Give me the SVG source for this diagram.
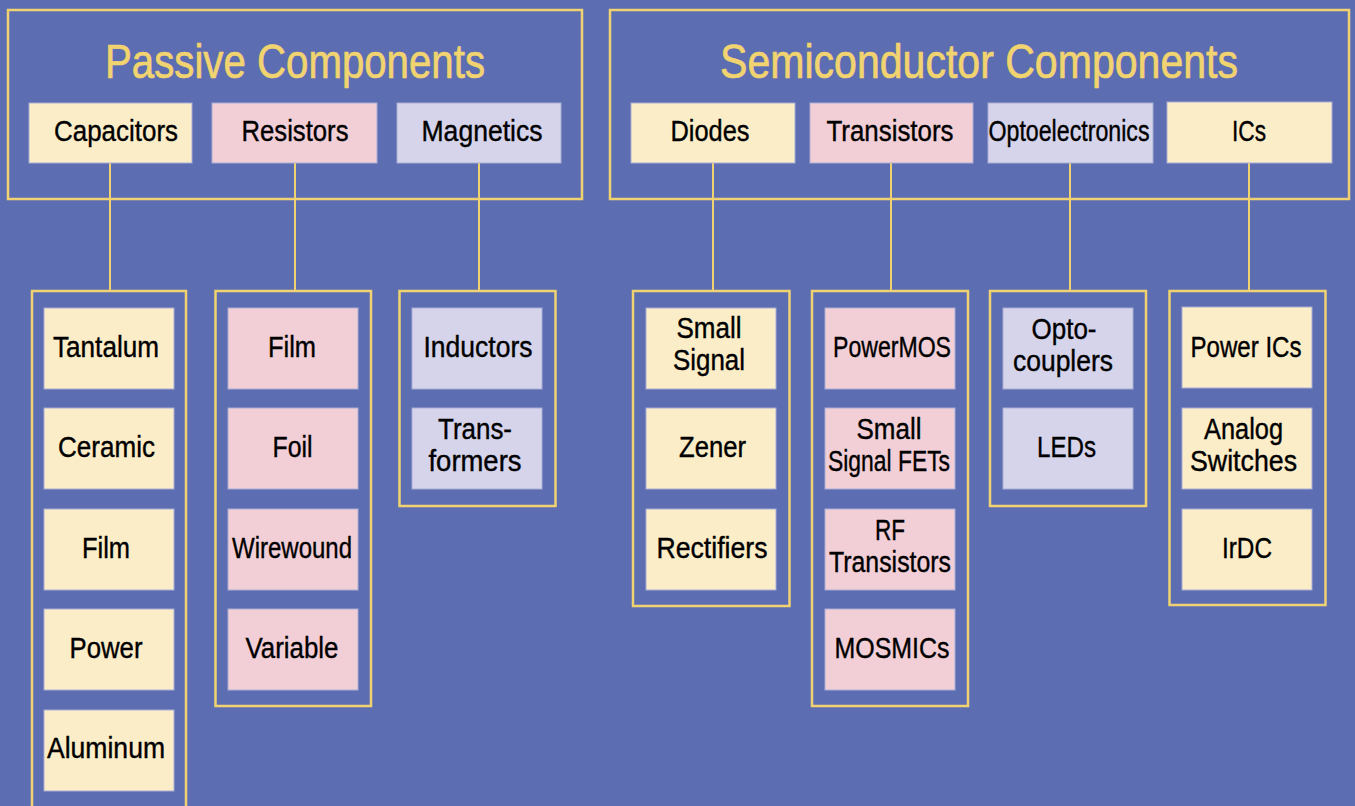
<svg xmlns="http://www.w3.org/2000/svg" width="1355" height="806" viewBox="0 0 1355 806">
  <style>
    .frame { fill: none; stroke: #f0d370; stroke-width: 2.5; }
    .wire { stroke: #f0d370; stroke-width: 2; fill: none; }
    .box { stroke: #a9aed6; stroke-width: 1; }
    .cream { fill: #fbedc8; }
    .pink { fill: #f2cfd6; }
    .lav { fill: #d6d4ea; }
    .title { font-family: "Liberation Sans", Arial, sans-serif; font-size: 48px; fill: #f1d470; stroke: #f1d470; stroke-width: 0.7; text-anchor: middle; }
    .lbl { font-family: "Liberation Sans", Arial, sans-serif; font-size: 30px; fill: #000; stroke: #000; stroke-width: 0.4; text-anchor: middle; }
  </style>

  <rect width="1355" height="806" fill="#5d6db2"/>

  <!-- category frames -->
  <g id="passive">
    <rect class="frame" x="8" y="10" width="574" height="189"/>
    <text class="title" x="295" y="78" textLength="380" lengthAdjust="spacingAndGlyphs">Passive Components</text>
  </g>
  <g id="semiconductor">
    <rect class="frame" x="610" y="10" width="739" height="189"/>
    <text class="title" x="979" y="78" textLength="518" lengthAdjust="spacingAndGlyphs">Semiconductor Components</text>
  </g>

  <!-- connectors from family boxes down to their member groups -->
  <g id="connectors">
    <line class="wire" x1="110" y1="163" x2="110" y2="291"/>
    <line class="wire" x1="295" y1="163" x2="295" y2="291"/>
    <line class="wire" x1="479" y1="163" x2="479" y2="291"/>
    <line class="wire" x1="713" y1="163" x2="713" y2="291"/>
    <line class="wire" x1="891" y1="163" x2="891" y2="291"/>
    <line class="wire" x1="1070" y1="163" x2="1070" y2="291"/>
    <line class="wire" x1="1249" y1="163" x2="1249" y2="291"/>
  </g>

  <!-- family boxes -->
  <g id="capacitors">
    <rect class="box cream" x="29" y="103" width="163" height="60"/>
    <text class="lbl" x="116" y="141" textLength="124" lengthAdjust="spacingAndGlyphs">Capacitors</text>
  </g>
  <g id="resistors">
    <rect class="box pink" x="212" y="103" width="165" height="60"/>
    <text class="lbl" x="295" y="141" textLength="107" lengthAdjust="spacingAndGlyphs">Resistors</text>
  </g>
  <g id="magnetics">
    <rect class="box lav" x="397" y="103" width="164" height="60"/>
    <text class="lbl" x="482" y="141" textLength="121" lengthAdjust="spacingAndGlyphs">Magnetics</text>
  </g>
  <g id="diodes">
    <rect class="box cream" x="631" y="103" width="164" height="60"/>
    <text class="lbl" x="710" y="141" textLength="79" lengthAdjust="spacingAndGlyphs">Diodes</text>
  </g>
  <g id="transistors">
    <rect class="box pink" x="810" y="103" width="163" height="60"/>
    <text class="lbl" x="890" y="141" textLength="127" lengthAdjust="spacingAndGlyphs">Transistors</text>
  </g>
  <g id="optoelectronics">
    <rect class="box lav" x="988" y="103" width="165" height="60"/>
    <text class="lbl" x="1069" y="141" textLength="161" lengthAdjust="spacingAndGlyphs">Optoelectronics</text>
  </g>
  <g id="ics">
    <rect class="box cream" x="1167" y="102" width="165" height="61"/>
    <text class="lbl" x="1249" y="141" textLength="34" lengthAdjust="spacingAndGlyphs">ICs</text>
  </g>

  <!-- member group frames -->
  <g id="capacitor-types">
    <rect class="frame" x="32" y="291" width="154" height="540"/>
  </g>
  <g id="resistor-types">
    <rect class="frame" x="215.5" y="291" width="155.5" height="415"/>
  </g>
  <g id="magnetic-types">
    <rect class="frame" x="399.5" y="291" width="156" height="215"/>
  </g>
  <g id="diode-types">
    <rect class="frame" x="633" y="291" width="156.5" height="315"/>
  </g>
  <g id="transistor-types">
    <rect class="frame" x="812" y="291" width="156" height="415"/>
  </g>
  <g id="opto-types">
    <rect class="frame" x="990" y="291" width="156" height="215"/>
  </g>
  <g id="ic-types">
    <rect class="frame" x="1169.5" y="291" width="156" height="314"/>
  </g>

  <!-- capacitors -->
  <g id="tantalum">
    <rect class="box cream" x="44" y="308" width="130" height="81"/>
    <text class="lbl" x="106" y="357" textLength="106" lengthAdjust="spacingAndGlyphs">Tantalum</text>
  </g>
  <g id="ceramic">
    <rect class="box cream" x="44" y="408" width="130" height="81"/>
    <text class="lbl" x="106.5" y="457" textLength="97" lengthAdjust="spacingAndGlyphs">Ceramic</text>
  </g>
  <g id="cap-film">
    <rect class="box cream" x="44" y="509" width="130" height="81"/>
    <text class="lbl" x="106" y="558" textLength="48" lengthAdjust="spacingAndGlyphs">Film</text>
  </g>
  <g id="cap-power">
    <rect class="box cream" x="44" y="609" width="130" height="81"/>
    <text class="lbl" x="106" y="658" textLength="73" lengthAdjust="spacingAndGlyphs">Power</text>
  </g>
  <g id="aluminum">
    <rect class="box cream" x="44" y="710" width="130" height="81"/>
    <text class="lbl" x="106" y="758" textLength="118" lengthAdjust="spacingAndGlyphs">Aluminum</text>
  </g>

  <!-- resistors -->
  <g id="res-film">
    <rect class="box pink" x="228" y="308" width="130" height="81"/>
    <text class="lbl" x="292" y="357" textLength="48" lengthAdjust="spacingAndGlyphs">Film</text>
  </g>
  <g id="foil">
    <rect class="box pink" x="228" y="408" width="130" height="81"/>
    <text class="lbl" x="292.5" y="457" textLength="40" lengthAdjust="spacingAndGlyphs">Foil</text>
  </g>
  <g id="wirewound">
    <rect class="box pink" x="228" y="509" width="130" height="81"/>
    <text class="lbl" x="292" y="558" textLength="120" lengthAdjust="spacingAndGlyphs">Wirewound</text>
  </g>
  <g id="variable">
    <rect class="box pink" x="228" y="609" width="130" height="81"/>
    <text class="lbl" x="292" y="658" textLength="93" lengthAdjust="spacingAndGlyphs">Variable</text>
  </g>

  <!-- magnetics -->
  <g id="inductors">
    <rect class="box lav" x="412" y="308" width="130" height="81"/>
    <text class="lbl" x="478" y="357" textLength="109" lengthAdjust="spacingAndGlyphs">Inductors</text>
  </g>
  <g id="transformers">
    <rect class="box lav" x="412" y="408" width="130" height="81"/>
    <text class="lbl" x="475" y="439" textLength="74" lengthAdjust="spacingAndGlyphs">Trans-</text>
    <text class="lbl" x="475" y="471" textLength="93" lengthAdjust="spacingAndGlyphs">formers</text>
  </g>

  <!-- diodes -->
  <g id="small-signal">
    <rect class="box cream" x="646" y="308" width="130" height="81"/>
    <text class="lbl" x="709" y="338" textLength="65" lengthAdjust="spacingAndGlyphs">Small</text>
    <text class="lbl" x="709" y="370" textLength="72" lengthAdjust="spacingAndGlyphs">Signal</text>
  </g>
  <g id="zener">
    <rect class="box cream" x="646" y="408" width="130" height="81"/>
    <text class="lbl" x="712.5" y="457" textLength="67" lengthAdjust="spacingAndGlyphs">Zener</text>
  </g>
  <g id="rectifiers">
    <rect class="box cream" x="646" y="509" width="130" height="81"/>
    <text class="lbl" x="712" y="558" textLength="111" lengthAdjust="spacingAndGlyphs">Rectifiers</text>
  </g>

  <!-- transistors -->
  <g id="powermos">
    <rect class="box pink" x="825" y="308" width="130" height="81"/>
    <text class="lbl" x="892" y="357" textLength="118" lengthAdjust="spacingAndGlyphs">PowerMOS</text>
  </g>
  <g id="small-signal-fets">
    <rect class="box pink" x="825" y="408" width="130" height="81"/>
    <text class="lbl" x="889" y="439" textLength="65" lengthAdjust="spacingAndGlyphs">Small</text>
    <text class="lbl" x="889" y="471" textLength="122" lengthAdjust="spacingAndGlyphs">Signal FETs</text>
  </g>
  <g id="rf-transistors">
    <rect class="box pink" x="825" y="509" width="130" height="81"/>
    <text class="lbl" x="890" y="540" textLength="30" lengthAdjust="spacingAndGlyphs">RF</text>
    <text class="lbl" x="890" y="572" textLength="122" lengthAdjust="spacingAndGlyphs">Transistors</text>
  </g>
  <g id="mosmics">
    <rect class="box pink" x="825" y="609" width="130" height="81"/>
    <text class="lbl" x="892" y="658" textLength="115" lengthAdjust="spacingAndGlyphs">MOSMICs</text>
  </g>

  <!-- optoelectronics -->
  <g id="optocouplers">
    <rect class="box lav" x="1003" y="308" width="130" height="81"/>
    <text class="lbl" x="1064" y="339" textLength="65" lengthAdjust="spacingAndGlyphs">Opto-</text>
    <text class="lbl" x="1063" y="371" textLength="100" lengthAdjust="spacingAndGlyphs">couplers</text>
  </g>
  <g id="leds">
    <rect class="box lav" x="1003" y="408" width="130" height="81"/>
    <text class="lbl" x="1066.5" y="457" textLength="59" lengthAdjust="spacingAndGlyphs">LEDs</text>
  </g>

  <!-- ICs -->
  <g id="power-ics">
    <rect class="box cream" x="1182" y="307" width="130" height="81"/>
    <text class="lbl" x="1246" y="357" textLength="111" lengthAdjust="spacingAndGlyphs">Power ICs</text>
  </g>
  <g id="analog-switches">
    <rect class="box cream" x="1182" y="408" width="130" height="81"/>
    <text class="lbl" x="1243.5" y="439" textLength="79" lengthAdjust="spacingAndGlyphs">Analog</text>
    <text class="lbl" x="1243.5" y="471" textLength="107" lengthAdjust="spacingAndGlyphs">Switches</text>
  </g>
  <g id="irdc">
    <rect class="box cream" x="1182" y="509" width="130" height="81"/>
    <text class="lbl" x="1247" y="558" textLength="50" lengthAdjust="spacingAndGlyphs">IrDC</text>
  </g>
</svg>
